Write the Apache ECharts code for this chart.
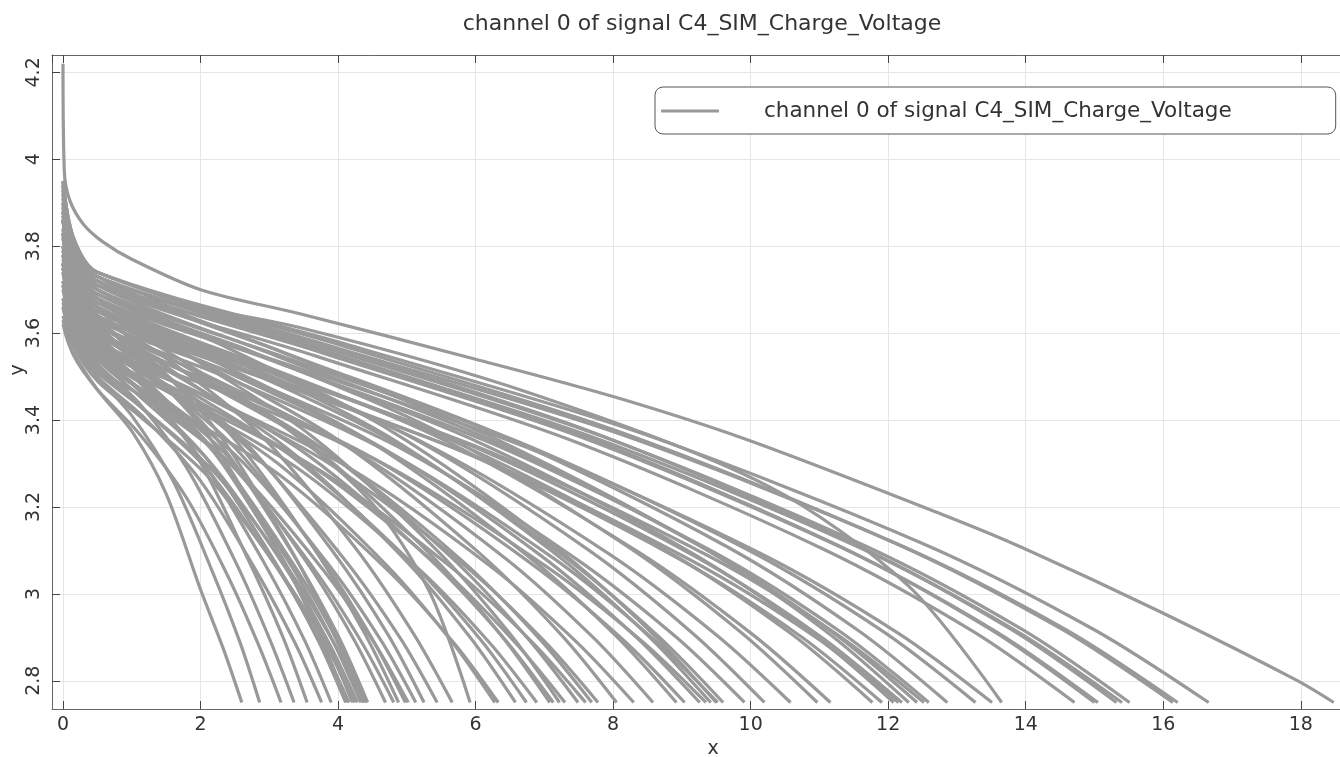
<!DOCTYPE html>
<html>
<head>
<meta charset="utf-8">
<title>channel 0 of signal C4_SIM_Charge_Voltage</title>
<script src="https://cdn.jsdelivr.net/npm/echarts@6/dist/echarts.min.js"></script>
<style>
    html, body { margin: 0; padding: 0; background: #fff; }
    #chart { width: 1340px; height: 757px; }
</style>
</head>
<body>
<div id="chart"></div>
<script>
var seriesName = 'channel 0 of signal C4_SIM_Charge_Voltage';

// discharge curves ending before x = 6
var shortCurves = [
    [[0,3.62],[0.1,3.57],[0.5,3.47],[1.02,3.37],[1.5,3.23],[2,3.01],[2.34,2.87],[2.6,2.75]],
    [[0,3.66],[0.15,3.58],[0.5,3.5],[1.0,3.41],[1.6,3.26],[2.15,3.06],[2.57,2.89],[2.86,2.75]],
    [[0,3.63],[0.15,3.55],[0.5,3.47],[1.1,3.37],[1.8,3.22],[2.4,3.04],[2.85,2.88],[3.17,2.75]],
    [[0,3.7],[0.15,3.61],[0.5,3.53],[1.1,3.44],[1.8,3.29],[2.52,3.07],[3.02,2.89],[3.36,2.75]],
    [[0,3.76],[0.15,3.66],[0.5,3.58],[1.1,3.49],[1.9,3.33],[2.66,3.09],[3.2,2.9],[3.55,2.75]],
    [[0,3.66],[0.15,3.58],[0.5,3.5],[1.15,3.41],[2.0,3.26],[2.82,3.05],[3.38,2.885],[3.76,2.75]],
    [[0,3.72],[0.15,3.63],[0.5,3.55],[1.2,3.46],[2.05,3.3],[2.93,3.07],[3.51,2.894],[3.9,2.75]],
    [[0,3.74],[0.15,3.64],[0.5,3.56],[1.03,3.479],[2.06,3.317],[3.08,3.074],[3.7,2.896],[4.11,2.75]],
    [[0,3.83],[0.15,3.72],[0.5,3.64],[1.03,3.551],[2.07,3.373],[3.1,3.106],[3.72,2.91],[4.13,2.75]],
    [[0,3.68],[0.15,3.6],[0.5,3.52],[1.04,3.443],[2.08,3.289],[3.12,3.058],[3.74,2.889],[4.16,2.75]],
    [[0,3.78],[0.15,3.68],[0.5,3.6],[1.05,3.515],[2.11,3.345],[3.16,3.09],[3.79,2.903],[4.21,2.75]],
    [[0,3.64],[0.15,3.57],[0.5,3.49],[1.06,3.416],[2.12,3.268],[3.18,3.046],[3.82,2.883],[4.24,2.75]],
    [[0,3.71],[0.15,3.62],[0.5,3.54],[1.07,3.461],[2.14,3.303],[3.21,3.066],[3.85,2.892],[4.28,2.75]],
    [[0,3.76],[0.15,3.66],[0.5,3.58],[1.08,3.497],[2.17,3.331],[3.25,3.082],[3.9,2.899],[4.33,2.75]],
    [[0,3.86],[0.15,3.74],[0.5,3.66],[1.09,3.569],[2.18,3.387],[3.27,3.114],[3.92,2.914],[4.36,2.75]],
    [[0,3.67],[0.15,3.59],[0.5,3.51],[1.1,3.434],[2.19,3.282],[3.29,3.054],[3.94,2.887],[4.38,2.75]],
    [[0,3.75],[0.15,3.65],[0.5,3.57],[1.1,3.488],[2.21,3.324],[3.31,3.078],[3.97,2.898],[4.41,2.75]],
    [[0,3.8],[0.15,3.7],[0.5,3.62],[1.11,3.533],[2.22,3.359],[3.32,3.098],[3.99,2.907],[4.43,2.75]],
    [[0,3.75],[0.15,3.65],[0.5,3.57],[1.17,3.488],[2.35,3.324],[3.52,3.078],[4.22,2.898],[4.69,2.75]],
    [[0,3.71],[0.15,3.62],[0.5,3.54],[1.2,3.461],[2.41,3.303],[3.61,3.066],[4.33,2.892],[4.81,2.75]],
    [[0,3.82],[0.15,3.71],[0.5,3.63],[1.22,3.542],[2.44,3.366],[3.66,3.102],[4.39,2.908],[4.88,2.75]],
    [[0,3.77],[0.15,3.67],[0.5,3.59],[1.25,3.506],[2.49,3.338],[3.74,3.086],[4.48,2.901],[4.98,2.75]],
    [[0,3.68],[0.15,3.6],[0.5,3.52],[1.26,3.443],[2.51,3.289],[3.77,3.058],[4.52,2.889],[5.02,2.75]],
    [[0,3.72],[0.15,3.63],[0.5,3.55],[1.28,3.47],[2.57,3.31],[3.85,3.07],[4.62,2.894],[5.13,2.75]],
    [[0,3.79],[0.15,3.69],[0.5,3.61],[1.31,3.524],[2.63,3.352],[3.94,3.094],[4.73,2.905],[5.25,2.75]],
    [[0,3.76],[0.15,3.66],[0.5,3.58],[1.36,3.497],[2.72,3.331],[4.08,3.082],[4.9,2.899],[5.44,2.75]],
    [[0,3.83],[0.15,3.72],[0.5,3.64],[1.42,3.551],[2.83,3.373],[4.25,3.106],[5.09,2.91],[5.66,2.75]],
    [[0,3.78],[0.15,3.68],[0.5,3.6],[1.48,3.532],[2.96,3.413],[4.44,3.218],[5.33,3.005],[5.92,2.75]]
];

// curves ending between x = 6 and x = 11.5
var midCurves = [
    [[0,3.76],[0.15,3.66],[0.5,3.58],[1.57,3.464],[3.14,3.298],[4.71,3.065],[5.65,2.891],[6.28,2.75]],
    [[0,3.71],[0.15,3.62],[0.5,3.54],[1.58,3.429],[3.17,3.271],[4.75,3.05],[5.7,2.884],[6.33,2.75]],
    [[0,3.82],[0.15,3.71],[0.5,3.63],[1.65,3.507],[3.29,3.331],[4.94,3.084],[5.92,2.9],[6.58,2.75]],
    [[0,3.78],[0.15,3.68],[0.5,3.6],[1.69,3.481],[3.37,3.311],[5.06,3.073],[6.07,2.895],[6.74,2.75]],
    [[0,3.74],[0.15,3.64],[0.5,3.56],[1.72,3.447],[3.45,3.285],[5.17,3.058],[6.2,2.888],[6.89,2.75]],
    [[0,3.86],[0.15,3.74],[0.5,3.66],[1.77,3.533],[3.54,3.351],[5.31,3.096],[6.37,2.905],[7.08,2.75]],
    [[0,3.79],[0.15,3.69],[0.5,3.61],[1.78,3.49],[3.57,3.318],[5.35,3.077],[6.42,2.896],[7.13,2.75]],
    [[0,3.88],[0.15,3.76],[0.5,3.68],[1.81,3.55],[3.61,3.364],[5.42,3.103],[6.5,2.908],[7.22,2.75]],
    [[0,3.75],[0.15,3.65],[0.5,3.57],[1.83,3.455],[3.65,3.291],[5.48,3.062],[6.57,2.889],[7.3,2.75]],
    [[0,3.83],[0.15,3.72],[0.5,3.64],[1.87,3.515],[3.75,3.337],[5.62,3.088],[6.74,2.901],[7.49,2.75]],
    [[0,3.72],[0.15,3.63],[0.5,3.55],[1.9,3.438],[3.8,3.278],[5.7,3.054],[6.84,2.886],[7.6,2.75]],
    [[0,3.8],[0.15,3.7],[0.5,3.62],[1.92,3.498],[3.85,3.324],[5.77,3.081],[6.92,2.898],[7.69,2.75]],
    [[0,3.76],[0.15,3.66],[0.5,3.58],[1.95,3.464],[3.89,3.298],[5.84,3.065],[7.0,2.891],[7.78,2.75]],
    [[0,3.86],[0.15,3.74],[0.5,3.66],[2.01,3.533],[4.03,3.351],[6.04,3.096],[7.25,2.905],[8.05,2.75]],
    [[0,3.75],[0.15,3.65],[0.5,3.57],[2.08,3.455],[4.15,3.291],[6.23,3.062],[7.47,2.889],[8.3,2.75]],
    [[0,3.8],[0.15,3.7],[0.5,3.62],[2.15,3.498],[4.29,3.324],[6.44,3.081],[7.72,2.898],[8.58,2.75]],
    [[0,3.86],[0.15,3.74],[0.5,3.66],[2.23,3.533],[4.46,3.351],[6.69,3.096],[8.03,2.905],[8.92,2.75]],
    [[0,3.78],[0.15,3.68],[0.5,3.6],[2.26,3.481],[4.52,3.311],[6.78,3.073],[8.14,2.895],[9.04,2.75]],
    [[0,3.83],[0.15,3.72],[0.5,3.64],[2.32,3.515],[4.63,3.337],[6.95,3.088],[8.33,2.901],[9.26,2.75]],
    [[0,3.76],[0.15,3.66],[0.5,3.58],[2.34,3.464],[4.68,3.298],[7.01,3.065],[8.42,2.891],[9.35,2.75]],
    [[0,3.88],[0.15,3.76],[0.5,3.68],[2.36,3.55],[4.71,3.364],[7.07,3.103],[8.48,2.908],[9.42,2.75]],
    [[0,3.9],[0.15,3.78],[0.5,3.7],[2.38,3.567],[4.75,3.377],[7.13,3.111],[8.55,2.912],[9.5,2.75]],
    [[0,3.8],[0.15,3.7],[0.5,3.62],[2.38,3.498],[4.76,3.324],[7.14,3.081],[8.57,2.898],[9.52,2.75]],
    [[0,3.86],[0.15,3.74],[0.5,3.66],[2.4,3.533],[4.8,3.351],[7.2,3.096],[8.64,2.905],[9.6,2.75]],
    [[0,3.82],[0.15,3.71],[0.5,3.63],[2.48,3.507],[4.96,3.331],[7.43,3.084],[8.92,2.9],[9.91,2.75]],
    [[0,3.87],[0.15,3.75],[0.5,3.67],[2.55,3.541],[5.1,3.357],[7.65,3.1],[9.18,2.906],[10.2,2.75]],
    [[0,3.84],[0.15,3.73],[0.5,3.65],[2.65,3.524],[5.29,3.344],[7.94,3.092],[9.52,2.903],[10.58,2.75]],
    [[0,3.89],[0.15,3.77],[0.5,3.69],[2.74,3.558],[5.49,3.37],[8.23,3.107],[9.87,2.91],[10.97,2.75]],
    [[0,3.86],[0.15,3.74],[0.5,3.66],[2.79,3.533],[5.58,3.351],[8.37,3.096],[10.04,2.905],[11.16,2.75]]
];

// curves ending after x = 11.5
var longCurves = [
    [[0,3.88],[0.15,3.76],[0.5,3.68],[2.94,3.522],[5.89,3.336],[8.83,3.094],[10.59,2.908],[11.77,2.75]],
    [[0,3.84],[0.15,3.73],[0.5,3.65],[2.98,3.497],[5.96,3.317],[8.93,3.083],[10.72,2.903],[11.91,2.75]],
    [[0,3.9],[0.15,3.78],[0.5,3.7],[3.02,3.539],[6.04,3.349],[9.06,3.102],[10.87,2.912],[12.08,2.75]],
    [[0,3.83],[0.15,3.72],[0.5,3.64],[3.04,3.489],[6.08,3.311],[9.11,3.079],[10.94,2.901],[12.15,2.75]],
    [[0,3.87],[0.15,3.75],[0.5,3.67],[3.05,3.514],[6.1,3.33],[9.15,3.09],[10.98,2.906],[12.2,2.75]],
    [[0,3.93],[0.15,3.81],[0.5,3.73],[3.08,3.563],[6.15,3.367],[9.23,3.113],[11.07,2.917],[12.3,2.75]],
    [[0,3.91],[0.15,3.79],[0.5,3.71],[3.11,3.547],[6.21,3.355],[9.32,3.105],[11.18,2.913],[12.42,2.75]],
    [[0,3.86],[0.15,3.74],[0.5,3.66],[3.13,3.505],[6.26,3.323],[9.39,3.087],[11.27,2.905],[12.52,2.75]],
    [[0,3.89],[0.15,3.77],[0.5,3.69],[3.15,3.53],[6.3,3.342],[9.44,3.098],[11.33,2.91],[12.59,2.75]],
    [[0,3.92],[0.15,3.8],[0.5,3.72],[3.22,3.555],[6.43,3.361],[9.65,3.109],[11.57,2.915],[12.86,2.75]],
    [[0,3.9],[0.15,3.78],[0.5,3.7],[3.32,3.539],[6.64,3.349],[9.95,3.102],[11.94,2.912],[13.27,2.75]],
    [[0,3.88],[0.15,3.76],[0.5,3.68],[3.38,3.522],[6.76,3.336],[10.13,3.094],[12.16,2.908],[13.51,2.75]],
    [[0,3.91],[0.15,3.79],[0.5,3.71],[3.41,3.614],[6.83,3.46],[10.24,3.249],[12.29,3.019],[13.65,2.75]],
    [[0,3.92],[0.15,3.8],[0.5,3.71],[3.68,3.547],[7.36,3.355],[11.03,3.105],[13.24,2.913],[14.71,2.75]],
    [[0,3.94],[0.15,3.81],[0.5,3.73],[3.75,3.563],[7.5,3.367],[11.25,3.113],[13.5,2.917],[15,2.75]],
    [[0,3.93],[0.15,3.8],[0.5,3.72],[3.76,3.555],[7.53,3.361],[11.29,3.109],[13.55,2.915],[15.05,2.75]],
    [[0,3.95],[0.15,3.82],[0.5,3.74],[3.83,3.572],[7.66,3.374],[11.49,3.116],[13.79,2.918],[15.32,2.75]],
    [[0,3.93],[0.15,3.8],[0.5,3.72],[3.85,3.555],[7.7,3.361],[11.55,3.109],[13.86,2.915],[15.4,2.75]],
    [[0,3.94],[0.15,3.81],[0.5,3.73],[3.88,3.563],[7.76,3.367],[11.63,3.113],[13.96,2.917],[15.51,2.75]],
    [[0,3.95],[0.15,3.82],[0.5,3.74],[4.04,3.572],[8.07,3.374],[12.11,3.116],[14.53,2.918],[16.14,2.75]],
    [[0,3.94],[0.15,3.81],[0.5,3.73],[4.05,3.563],[8.11,3.367],[12.16,3.113],[14.59,2.917],[16.21,2.75]],
    [[0,3.95],[0.15,3.82],[0.5,3.74],[4.17,3.572],[8.33,3.374],[12.5,3.116],[14.99,2.918],[16.66,2.75]]
];

// the one curve that starts at 4.22
var topCurve = [[0,4.22],[0.02,3.97],[0.1,3.905],[0.3,3.85],[0.58,3.81],[1,3.77],[2,3.7],[3.43,3.645],
    [6,3.54],[8,3.454],[9.96,3.354],[12.86,3.178],[13.97,3.105],[15.94,2.96],[17.93,2.802],[18.48,2.75]];

var dom = document.getElementById('chart');
var myChart = echarts.init(dom);

var allCurves = shortCurves.concat(midCurves, longCurves, [topCurve]);
var series = allCurves.map(function (pts) {
    return {
        name: seriesName,
        type: 'line',
        data: pts,
        symbol: 'none',
        showSymbol: false,
        smooth: 0.3,
        silent: true,
        lineStyle: { color: '#999999', width: 3.2 },
        itemStyle: { color: '#999999' }
    };
});

var axisColor = '#666';
var option = {
    animation: false,
    backgroundColor: '#fff',
    textStyle: { fontFamily: 'DejaVu Sans' },
    title: {
        text: seriesName,
        left: 697,
        top: 8,
        textAlign: 'center',
        textStyle: { fontSize: 22, fontWeight: 'normal', color: '#333', fontFamily: 'DejaVu Sans' }
    },
    legend: {
        data: [seriesName],
        left: 655,
        top: 87,
        icon: 'rect',
        itemWidth: 58,
        itemHeight: 3,
        padding: [13, 104, 12, 6],
        borderColor: '#555',
        borderWidth: 1,
        borderRadius: 8,
        backgroundColor: '#fff',
        selectedMode: false,
        itemStyle: { color: '#999999' },
        textStyle: { fontSize: 21.5, color: '#333', padding: [0, 0, 0, 40], fontFamily: 'DejaVu Sans' }
    },
    grid: {
        left: 52,
        right: 0,
        top: 55,
        bottom: 48,
        containLabel: false,
        outerBoundsMode: 'none'
    },
    xAxis: [
        {
            type: 'value',
            min: -0.16,
            max: 18.57,
            splitNumber: 9,
            name: 'x',
            nameLocation: 'middle',
            nameGap: 25,
            nameTextStyle: { fontSize: 19, color: '#333', padding: [0, 0, 0, 34] },
            axisLine: { show: true, onZero: false, lineStyle: { color: axisColor } },
            axisTick: { inside: true, length: 8, lineStyle: { color: '#444' } },
            axisLabel: { fontSize: 19, color: '#333', margin: 7, showMinLabel: false, showMaxLabel: false },
            splitLine: { show: true, lineStyle: { color: '#e6e6e6' } }
        },
        {
            type: 'value',
            position: 'top',
            min: -0.16,
            max: 18.57,
            splitNumber: 9,
            axisLine: { show: true, onZero: false, lineStyle: { color: axisColor } },
            axisTick: { inside: true, length: 8, lineStyle: { color: '#444' } },
            axisLabel: { show: false },
            splitLine: { show: false }
        }
    ],
    yAxis: {
        type: 'value',
        min: 2.735,
        max: 4.24,
        splitNumber: 7,
        name: 'y',
        nameLocation: 'middle',
        nameRotate: 90,
        nameGap: 24,
        nameMoveOverlap: false,
        nameTextStyle: { fontSize: 19, color: '#333', padding: [0, 0, 0, 24] },
        axisLine: { show: true, onZero: false, lineStyle: { color: axisColor } },
        axisTick: { inside: true, length: 8, lineStyle: { color: '#444' } },
        axisLabel: { rotate: 90, fontSize: 19, color: '#333', margin: 8, showMinLabel: false, showMaxLabel: false },
        splitLine: { show: true, lineStyle: { color: '#e6e6e6' } }
    },
    series: series
};

if (option && typeof option === "object") {
    myChart.setOption(option, true);
}
window.addEventListener('resize', function () {
    myChart.resize();
});
</script>
</body>
</html>
